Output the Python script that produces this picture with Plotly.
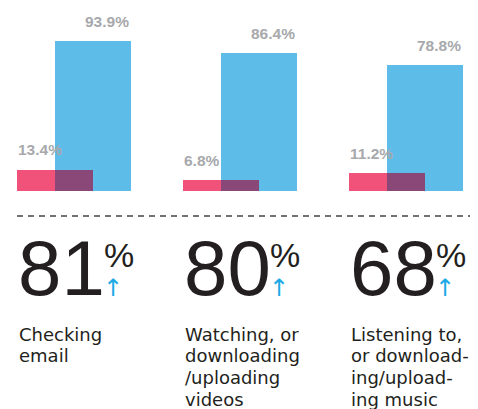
import plotly.graph_objects as go

# --- datos ---
categories = ["Checking\nemail",
              "Watching, or\ndownloading\n/uploading\nvideos",
              "Listening to,\nor download-\ning/upload-\ning music"]
pink_vals = [13.4, 6.8, 11.2]
blue_vals = [93.9, 86.4, 78.8]
big_pct = ["81", "80", "68"]

W, H = 478, 409
PAGE = 8               # default body margin of the html page
GROUP = 166.0          # px between groups
BAR = 76.0             # bar width in px
PINK_OFF = -57.0       # px from group centre
BLUE_OFF = -19.0
BASE_PX = 191.0        # bar baseline (screen px from top)
PX_PER_PCT = 1.597
BIG = 78               # font size of the big numbers

PINK = "#F0527A"
BLUE = "#5DBCE8"
PURPLE = "#8A4878"
GRAY = "#A7A9AC"
INK = "#231F20"
ARROW = "#1AA9E6"

def u(px):
    return px / GROUP

def py(pix):
    # screen pixel -> paper fraction
    return 1 - (pix - PAGE) / H

xs = list(range(len(categories)))
overlap = [min(p, b) for p, b in zip(pink_vals, blue_vals)]

fig = go.Figure()
fig.add_trace(go.Bar(x=xs, y=pink_vals, width=u(BAR), offset=u(PINK_OFF),
                     marker=dict(color=PINK, line_width=0), hoverinfo="skip"))
fig.add_trace(go.Bar(x=xs, y=blue_vals, width=u(BAR), offset=u(BLUE_OFF),
                     marker=dict(color=BLUE, line_width=0), hoverinfo="skip"))
fig.add_trace(go.Bar(x=xs, y=overlap, width=u(PINK_OFF + BAR - BLUE_OFF), offset=u(BLUE_OFF),
                     marker=dict(color=PURPLE, line_width=0), hoverinfo="skip"))

ann = []
label_font = dict(family="Liberation Sans", size=15.5, color=GRAY, weight="bold")
for i in xs:
    left = i + u(PINK_OFF)
    # etiquetas de valor
    ann.append(dict(x=i + u(BLUE_OFF + BAR), y=blue_vals[i], xref="x", yref="y",
                    text=f"{blue_vals[i]}%", showarrow=False, xanchor="right",
                    yanchor="middle", yshift=20, font=label_font))
    ann.append(dict(x=left, y=pink_vals[i], xref="x", yref="y",
                    text=f"{pink_vals[i]}%", showarrow=False, xanchor="left",
                    yanchor="middle", yshift=20, xshift=-1, font=label_font))
    # numero grande
    ann.append(dict(x=left, y=py(268), xref="x", yref="paper", text=big_pct[i],
                    showarrow=False, xanchor="left", yanchor="middle", xshift=-1,
                    font=dict(family="Liberation Sans", size=BIG, color=INK)))
    ann.append(dict(x=left, y=py(255), xref="x", yref="paper", text="%",
                    showarrow=False, xanchor="left", yanchor="middle",
                    xshift=len(big_pct[i]) * 0.556 * BIG - 2,
                    font=dict(family="Liberation Sans", size=34, color=INK)))
    ann.append(dict(x=left, y=py(288), xref="x", yref="paper", text="↑",
                    showarrow=False, xanchor="center", yanchor="middle", xshift=96,
                    font=dict(family="DejaVu Sans", size=24, color=ARROW)))
    # texto de categoria
    for k, line in enumerate(categories[i].split("\n")):
        ann.append(dict(x=left, y=py(334 + 21.7 * k), xref="x", yref="paper",
                        text=line, showarrow=False, xanchor="left", yanchor="middle",
                        font=dict(family="DejaVu Sans", size=18, color=INK)))

fig.update_layout(
    width=W, height=H,
    margin=dict(l=0, r=0, t=0, b=0),
    paper_bgcolor="white", plot_bgcolor="white",
    barmode="overlay", bargap=0, showlegend=False,
    xaxis=dict(range=[u(PAGE - 74), u(W + PAGE - 74)], visible=False, fixedrange=True),
    yaxis=dict(range=[0, (BASE_PX - PAGE) / PX_PER_PCT], domain=[py(BASE_PX), 1],
               visible=False, fixedrange=True),
    annotations=ann,
    shapes=[dict(type="line", xref="paper", yref="paper", x0=(17 - PAGE) / W, x1=1,
                 y0=py(216), y1=py(216),
                 line=dict(color="#444444", width=1.5, dash="6px,5px"))],
)

fig.write_html("out.html")
